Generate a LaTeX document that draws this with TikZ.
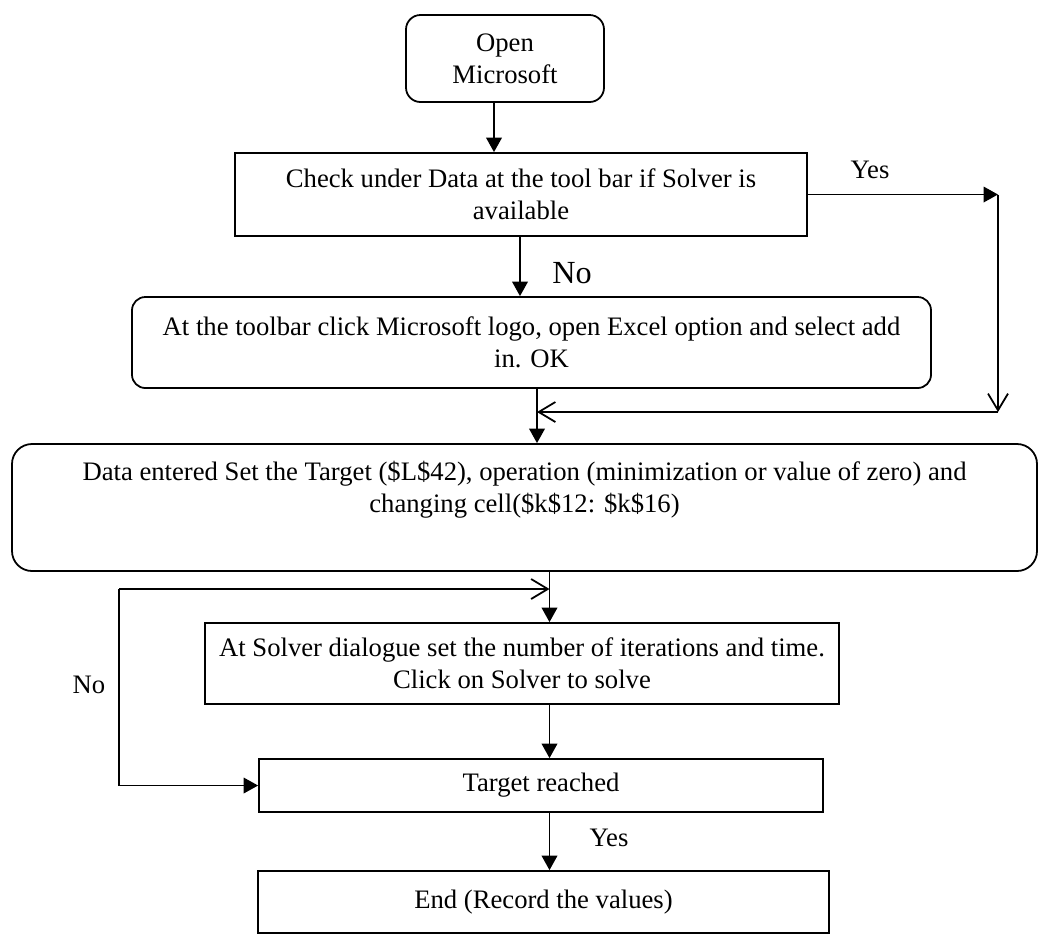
\documentclass[tikz,border=0pt]{standalone}
\usepackage{fontspec}
\setmainfont{Liberation Serif}
\usetikzlibrary{arrows.meta}
\tikzset{
  flowbox/.style={draw,line width=0.8pt,inner sep=0pt,align=center,font=\fontsize{12}{14.4}\selectfont},
  roundflow/.style={flowbox,rounded corners=#1},
  arr/.style={line width=0.8pt,-{Triangle[length=6.5pt,width=7pt]}},
  openarr/.style={line width=0.8pt,-{Straight Barb[length=7.5pt,width=9pt]}},
  lbl/.style={font=\fontsize{12}{14.4}\selectfont}
}
\begin{document}
\begin{tikzpicture}[x=0.45pt,y=-0.45pt]
\useasboundingbox (0,0) rectangle (1039,935);
% steps
\node[roundflow=6.5pt,minimum width=89.1pt,minimum height=39.15pt] (open) at (505,58.5) {Open\\Microsoft};
\node[flowbox,minimum width=257.4pt,minimum height=37.35pt] (check) at (521,194.5) {Check under Data at the tool bar if Solver is\\available};
\node[roundflow=6pt,minimum width=359.55pt,minimum height=40.95pt] (addin) at (531.5,342.5) {At the toolbar click Microsoft logo, open Excel option and select add\\in. OK};
\node[roundflow=9pt,minimum width=461.25pt,minimum height=57.15pt] (data) at (524.5,507.5) {Data entered Set the Target (\$L\$42), operation (minimization or value of zero) and\\changing cell(\$k\$12: \$k\$16)\\ \strut};
\node[flowbox,minimum width=285.3pt,minimum height=36.45pt] (solver) at (522,663.5) {At Solver dialogue set the number of iterations and time.\\Click on Solver to solve};
\node[flowbox,minimum width=253.8pt,minimum height=23.85pt] (reached) at (541,785.5) {Target reached};
\node[flowbox,minimum width=256.95pt,minimum height=27.9pt] (end) at (543.5,902) {End (Record the values)};
% labels
\node[lbl] (yestop) at (870,170) {Yes};
\node[font=\fontsize{14.5}{17}\selectfont] (notop) at (572,273) {No};
\node[lbl] (noleft) at (89,685) {No};
\node[lbl] (yesbot) at (609,838) {Yes};
% lanes and corners
\coordinate (lanea) at (494,0);
\coordinate (laneb) at (520,0);
\coordinate (lanec) at (537,0);
\coordinate (lanem) at (549.5,0);
\coordinate (yescorner) at (998,194.5);
\coordinate (yesjoin) at (998,412);
\coordinate (jointip) at (537,412);
\coordinate (loopcorner) at (119,589);
\coordinate (looptip) at (549.5,589);
% connectors
\draw[arr] (open.south -| lanea) -- (check.north -| lanea);
\draw[arr] (check.south -| laneb) -- (addin.north -| laneb);
\draw[arr] (check.east) -- (yescorner);
\draw[openarr] (yescorner) -- (yesjoin);
\draw[openarr] (yesjoin) -- (jointip);
\draw[arr] (addin.south -| lanec) -- (data.north -| lanec);
\draw[arr] (data.south -| lanem) -- (solver.north -| lanem);
\draw[openarr] (loopcorner) -- (looptip);
\draw[arr] (loopcorner) |- (reached.west);
\draw[arr] (solver.south -| lanem) -- (reached.north -| lanem);
\draw[arr] (reached.south -| lanem) -- (end.north -| lanem);
\end{tikzpicture}
\end{document}
